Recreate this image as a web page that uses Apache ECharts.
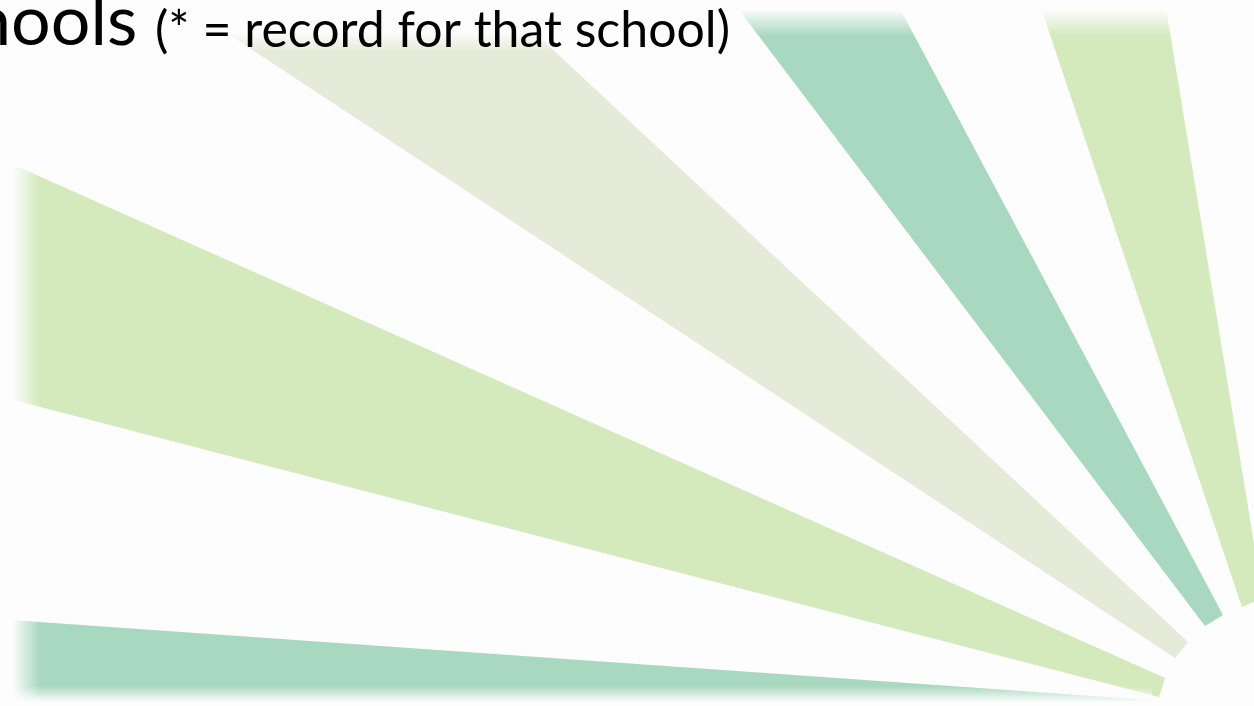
<!DOCTYPE html>
<html><head><meta charset="utf-8">
<script src="https://cdn.jsdelivr.net/npm/echarts@6/dist/echarts.min.js"></script>
<style>html,body{margin:0;padding:0;background:#fdfdfd;overflow:hidden}#c{width:1254px;height:706px}</style>
</head><body><div id="c"></div>
<script>
// Rays of the background sunburst (vertices in picture units, y grows downward)
const rayNames = ['bottom teal', 'left green', 'pale', 'upper teal', 'right green'];
const rayXs = [
  [-60, 1150, 1150, -60],
  [-60, 1165, 1159, -60],
  [207, 521, 1188, 1175],
  [724, 890, 1223, 1205],
  [1035, 1163, 1263, 1242]
];
const rayYs = [
  [615, 700, 740, 740],
  [132, 678, 697, 381],
  [20, 20, 642, 658],
  [-10, -10, 615, 626],
  [-10, -10, 598, 607]
];
const titleMain = 'hools';
const titleNote = '(* = record for that school)';

const rayColors = ['#a8d8bf', '#d4e9bc', '#e5ebd8', '#a8d8bf', '#d4e9bc'];
const BG = '#fdfdfd';
const BG0 = 'rgba(253,253,253,0)';

const chart = echarts.init(document.getElementById('c'), null, {renderer: 'canvas'});
const grad = (x0, y0, x1, y1, stops, g) => new echarts.graphic.LinearGradient(x0, y0, x1, y1, stops, g);
const textStops = [{offset: 0, color: '#0d0d0d'}, {offset: 0.55, color: '#262626'}, {offset: 1, color: '#707070'}];

chart.setOption({
  backgroundColor: BG,
  animation: false,
  grid: {left: 0, right: 0, top: 0, bottom: 0},
  xAxis: {type: 'value', min: 0, max: 1254, show: false},
  yAxis: {type: 'value', min: 0, max: 706, inverse: true, show: false},
  series: [{
    type: 'custom',
    name: 'rays',
    clip: true,
    data: rayNames.map((n, i) => ({name: n, value: [i]})),
    renderItem: function (params, api) {
      const i = api.value(0);
      const pts = rayXs[i].map((x, k) => api.coord([x, rayYs[i][k]]));
      return {
        type: 'polygon',
        shape: {points: pts},
        style: {fill: rayColors[i], stroke: null}
      };
    },
    silent: true
  }],
  graphic: {
    elements: [
      // soft edges of the picture
      {type: 'rect', z: 50, shape: {x: 0, y: 0, width: 40, height: 706},
        style: {fill: grad(0, 0, 1, 0, [{offset: 0, color: BG}, {offset: 0.3, color: BG}, {offset: 1, color: BG0}])}},
      {type: 'rect', z: 50, shape: {x: 0, y: 686, width: 1152, height: 20},
        style: {fill: grad(0, 0, 0, 1, [{offset: 0, color: BG0}, {offset: 0.8, color: BG}, {offset: 1, color: BG}])}},
      {type: 'rect', z: 50, shape: {x: 0, y: 0, width: 1254, height: 36},
        style: {fill: grad(0, 0, 0, 1, [{offset: 0, color: BG}, {offset: 0.25, color: BG}, {offset: 1, color: BG0}])}},
      {type: 'rect', z: 51, shape: {x: 140, y: 0, width: 460, height: 52},
        style: {fill: grad(0, 0, 0, 1, [{offset: 0, color: BG}, {offset: 0.6, color: BG}, {offset: 1, color: BG0}])}},
      // title
      {type: 'text', z: 100, x: -28, y: -13,
        style: {text: titleMain, font: '70px Lato', fill: grad(0, 0, 0, 46, textStops, true), textVerticalAlign: 'top'}},
      {type: 'text', z: 100, x: 155, y: 6,
        style: {text: titleNote, font: '50px Lato', fill: grad(0, 10, 0, 54, textStops, true), textVerticalAlign: 'top'}}
    ]
  }
});
</script>
</body></html>
